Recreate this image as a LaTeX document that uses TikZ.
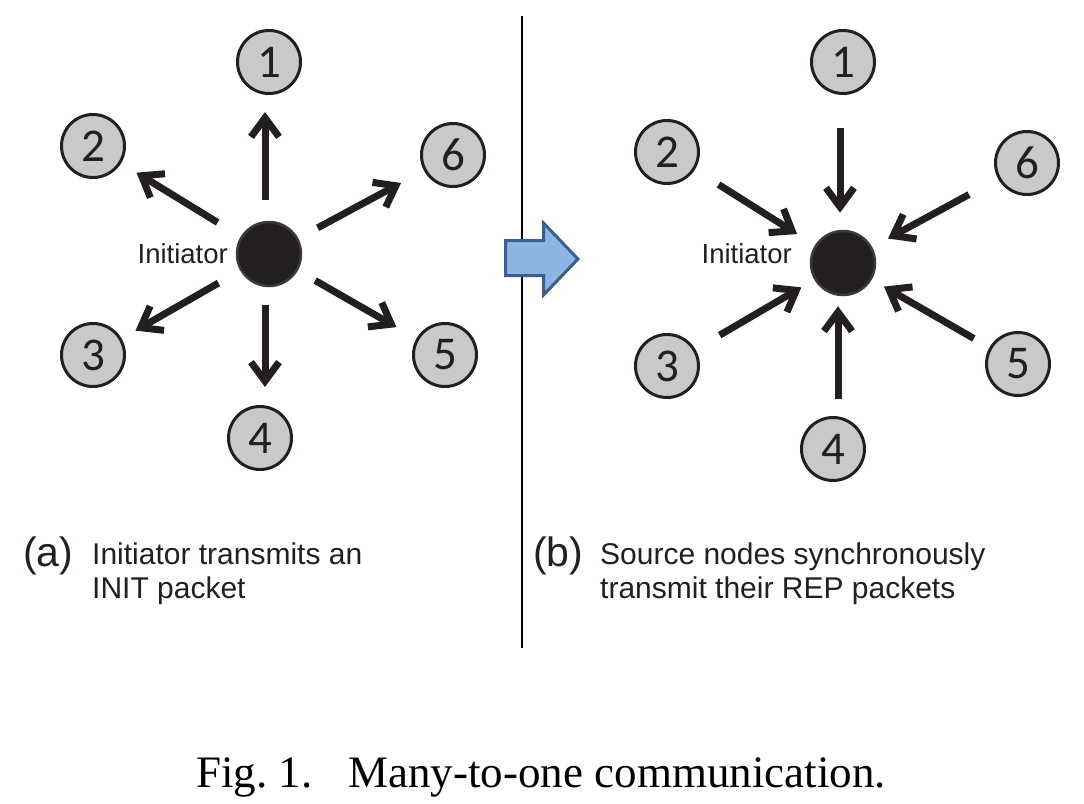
\documentclass[tikz,border=0pt]{standalone}
\usepackage{fontspec}
\setmainfont{Liberation Sans}
\newfontfamily\numfont{Carlito}
\newfontfamily\capfont{Liberation Serif}
\usetikzlibrary{arrows.meta}
\definecolor{ink}{HTML}{231F20}
\definecolor{nodegray}{HTML}{C8C9CB}
\definecolor{initedge}{HTML}{3A3A3A}
\definecolor{blockfill}{HTML}{8DB4E2}
\definecolor{blockedge}{HTML}{3A5F8C}
\begin{document}
\begin{tikzpicture}[x=1pt,y=-1pt,
  src/.style={circle, draw=ink, line width=3pt, fill=nodegray, minimum size=63pt, inner sep=0pt,
    font=\numfont\fontsize{47}{47}\selectfont, text=ink},
  init/.style={circle, draw=initedge, line width=2.5pt, fill=ink, minimum size=64pt, inner sep=0pt},
  lab/.style={font=\fontsize{27.5}{30}\selectfont, text=ink, inner sep=0pt},
  subcap/.style={font=\fontsize{30}{36}\selectfont, text=ink, inner sep=0pt, anchor=base west},
  subtag/.style={font=\fontsize{41}{41}\selectfont, text=ink, inner sep=0pt, anchor=base west},
  msg/.style={draw=ink, line width=7pt, -{Straight Barb[length=19pt,width=28pt]}},
]
\useasboundingbox[fill=white] (0,0) rectangle (1084,803);

% divider and transition arrow
\draw[line width=1.3pt, black] (522,16) -- (522,648);
\draw[fill=blockfill, draw=blockedge, line width=3pt, line join=miter]
  (505.5,240.5) -- (543.5,240.5) -- (543.5,223) -- (578,259) -- (543.5,295) -- (543.5,275.5) -- (505.5,275.5) -- cycle;

% panel (a)
\node[init] (A) at (269,254) {};
\node[src] (a1) at (269,62) {1};
\node[src] (a2) at (93,146) {2};
\node[src] (a3) at (93,355) {3};
\node[src] (a4) at (260,438) {4};
\node[src] (a5) at (445,355) {5};
\node[src] (a6) at (453,155) {6};
\node[lab, anchor=base east] (ilabA) at (228,263) {Initiator};

\draw[msg, shorten <=21pt, shorten >=17pt] ([xshift=-4pt]A.north) -- ([xshift=-4pt]A.north |- a1.south);
\draw[msg, shorten <=27pt, shorten >=18pt] (A) -- (a2);
\draw[msg, shorten <=25pt, shorten >=16pt] (A) -- (a3);
\draw[msg, shorten <=18pt, shorten >=18pt] ([xshift=-4pt]A.south) -- ([xshift=-4pt]A.south |- a4.north);
\draw[msg, shorten <=20pt, shorten >=23pt] (A) -- (a5);
\draw[msg, shorten <=22pt, shorten >=26pt] (A) -- (a6);

% panel (b)
\node[init] (B) at (843,263) {};
\node[src] (b1) at (843,62) {1};
\node[src] (b2) at (667,152) {2};
\node[src] (b3) at (667,366) {3};
\node[src] (b4) at (833,449) {4};
\node[src] (b5) at (1018,364) {5};
\node[src] (b6) at (1027,163) {6};
\node[lab, anchor=base east] (ilabB) at (792,263) {Initiator};

\draw[msg, shorten <=33pt, shorten >=17pt] ([xshift=-3pt]B.north |- b1.south) -- ([xshift=-3pt]B.north);
\draw[msg, shorten <=28pt, shorten >=21pt] (b2) -- (B);
\draw[msg, shorten <=28pt, shorten >=15pt] (b3) -- (B);
\draw[msg, shorten <=17pt, shorten >=10pt] ([xshift=-5pt]B.south |- b4.north) -- ([xshift=-5pt]B.south);
\draw[msg, shorten <=18pt, shorten >=14pt] (b5) -- (B);
\draw[msg, shorten <=33pt, shorten >=18pt] (b6) -- (B);

% sub-captions
\node[subtag] (taga) at (23,566) {(a)};
\node[subcap] (capa1) at (92,564) {Initiator transmits an};
\node[subcap] (capa2) at (92,598) {INIT packet};
\node[subtag] (tagb) at (533,566) {(b)};
\node[subcap] (capb1) at (600,564) {Source nodes synchronously};
\node[subcap] (capb2) at (600,598) {transmit their REP packets};

% figure caption
\node[font=\capfont\fontsize{45}{45}\selectfont, anchor=base, inner sep=0pt] (fig) at (541,787)
  {Fig.\ 1.\hspace{0.8em}Many-to-one communication.};
\end{tikzpicture}
\end{document}
